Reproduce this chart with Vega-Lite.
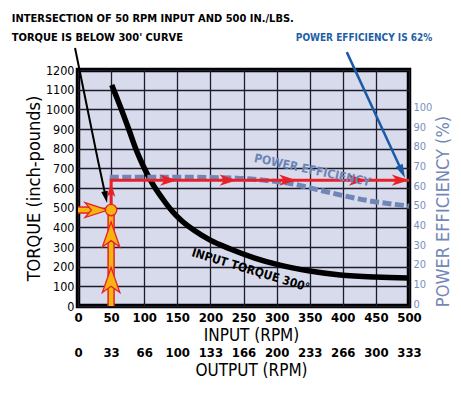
{
  "$schema": "https://vega.github.io/schema/vega-lite/v6.json",
  "width": 331,
  "height": 236,
  "autosize": {"type": "none"},
  "padding": {"left": 78, "top": 70, "right": 52, "bottom": 90},
  "background": "white",
  "config": {
    "view": {"fill": "#d8dbeb", "stroke": "#000000", "strokeWidth": 4.5},
    "font": "DejaVu Sans Condensed, Liberation Sans, sans-serif",
    "axis": {
      "domain": false,
      "ticks": false,
      "tickSize": 0,
      "labelFont": "DejaVu Sans Condensed, Liberation Sans, sans-serif",
      "titleFont": "DejaVu Sans Condensed, Liberation Sans, sans-serif",
      "labelColor": "#000000",
      "titleColor": "#000000",
      "titleFontWeight": "normal",
      "labelFlush": false,
      "labelOverlap": false,
      "format": "d",
      "gridColor": "#1c1c2c",
      "gridWidth": 1.3,
      "gridOpacity": 1
    }
  },
  "datasets": {
    "torque": [
      {"rpm": 51, "torque": 1124}, {"rpm": 63, "torque": 1022}, {"rpm": 76, "torque": 905},
      {"rpm": 88, "torque": 793}, {"rpm": 100, "torque": 702}, {"rpm": 112, "torque": 625},
      {"rpm": 127, "torque": 549}, {"rpm": 142, "torque": 483}, {"rpm": 157, "torque": 432},
      {"rpm": 177, "torque": 381}, {"rpm": 199, "torque": 336}, {"rpm": 230, "torque": 290},
      {"rpm": 267, "torque": 244}, {"rpm": 305, "torque": 208}, {"rpm": 350, "torque": 178},
      {"rpm": 396, "torque": 158}, {"rpm": 449, "torque": 147}, {"rpm": 500, "torque": 142}
    ],
    "power": [
      {"rpm": 48, "eff": 65.5}, {"rpm": 150, "eff": 65.5}, {"rpm": 240, "eff": 65},
      {"rpm": 280, "eff": 64}, {"rpm": 321, "eff": 62.3}, {"rpm": 360, "eff": 59.3},
      {"rpm": 397, "eff": 56.4}, {"rpm": 440, "eff": 53.5}, {"rpm": 488, "eff": 51.3},
      {"rpm": 500, "eff": 50.8}
    ],
    "redpath": [
      {"rpm": 50, "torque": 500, "o": 1}, {"rpm": 50, "torque": 640, "o": 2}, {"rpm": 500, "torque": 640, "o": 3}
    ],
    "shafts": [
      {"rpm": 50, "rpm2": 50, "torque": 0, "torque2": 488},
      {"rpm": 0, "rpm2": 25, "torque": 488, "torque2": 488}
    ],
    "redRight": [
      {"rpm": 137, "torque": 640}, {"rpm": 227, "torque": 640}, {"rpm": 317, "torque": 640},
      {"rpm": 422, "torque": 640}, {"rpm": 487, "torque": 640}
    ],
    "redUp": [{"rpm": 50, "torque": 590}],
    "orangeUp": [{"rpm": 50, "torque": 364}, {"rpm": 50, "torque": 132}],
    "orangeRight": [{"rpm": 28, "torque": 488}],
    "dot": [{"rpm": 50, "torque": 488}],
    "blackArrow": [{"rpm": -4.5, "torque": 1312}, {"rpm": 30, "torque": 742}, {"rpm": 42, "torque": 553}],
    "blackHead": [{"rpm": 42, "torque": 553}],
    "blueArrow": [{"rpm": 406, "torque": 1291}, {"rpm": 489.6, "torque": 683}],
    "blueHead": [{"rpm": 489.6, "torque": 683}],
    "heading": [
      {"rpm": -100, "torque": 1459, "label": "INTERSECTION OF 50 RPM INPUT AND  500 IN./LBS."},
      {"rpm": -100, "torque": 1363, "label": "TORQUE IS BELOW 300' CURVE"}
    ],
    "blueNote": [{"rpm": 329, "torque": 1363, "label": "POWER EFFICIENCY IS 62%"}],
    "curveNote": [{"rpm": 261, "torque": 183, "label": "INPUT TORQUE 300°"}],
    "effNote": [{"rpm": 354, "torque": 691, "label": "POWER EFFICIENCY"}]
  },
  "layer": [
    {
      "data": {"name": "torque"},
      "mark": {"type": "line", "color": "#000000", "strokeWidth": 5.5, "interpolate": "monotone"},
      "encoding": {
        "x": {
          "field": "rpm", "type": "quantitative",
          "scale": {"domain": [0, 500], "nice": false, "zero": false},
          "axis": {
            "orient": "bottom", "values": [0, 50, 100, 150, 200, 250, 300, 350, 400, 450, 500],
            "title": "INPUT (RPM)", "labelFontSize": 13, "labelFontWeight": "bold",
            "labelPadding": 5, "titleFontSize": 17, "titlePadding": 3, "titleX": 173, "grid": true
          }
        },
        "y": {
          "field": "torque", "type": "quantitative",
          "scale": {"domain": [0, 1200], "nice": false},
          "axis": {
            "orient": "left", "values": [0, 100, 200, 300, 400, 500, 600, 700, 800, 900, 1000, 1100, 1200],
            "title": "TORQUE (inch-pounds)", "labelFontSize": 12.5, "labelPadding": 4,
            "titleFontSize": 18, "titlePadding": 2, "grid": true
          }
        }
      }
    },
    {
      "data": {"name": "power"},
      "mark": {"type": "line", "color": "#6f86b6", "strokeWidth": 5, "strokeDash": [9, 3.5], "interpolate": "monotone"},
      "encoding": {
        "x": {
          "field": "rpm", "type": "quantitative",
          "scale": {"domain": [0, 500], "nice": false, "zero": false},
          "axis": {
            "orient": "bottom", "offset": 35, "values": [0, 50, 100, 150, 200, 250, 300, 350, 400, 450, 500],
            "labelExpr": "floor(datum.value * 2 / 3)",
            "title": "OUTPUT (RPM)", "labelFontSize": 13, "labelFontWeight": "bold",
            "labelPadding": 5, "titleFontSize": 17, "titlePadding": 3, "titleX": 173, "grid": false
          }
        },
        "y": {
          "field": "eff", "type": "quantitative",
          "scale": {"domain": [0, 120], "nice": false},
          "axis": {
            "orient": "right", "values": [0, 10, 20, 30, 40, 50, 60, 70, 80, 90, 100],
            "title": "POWER EFFICIENCY (%)", "labelFontSize": 11, "labelPadding": 4, "labelOffset": -2,
            "labelColor": "#7b8fbe", "titleColor": "#7388b9", "titleFontSize": 18,
            "titleAngle": -90, "titleBaseline": "top", "titlePadding": 3, "titleY": 141, "grid": false
          }
        }
      }
    },
    {
      "encoding": {
        "x": {"field": "rpm", "type": "quantitative", "scale": {"domain": [0, 500], "nice": false, "zero": false}, "axis": null},
        "y": {"field": "torque", "type": "quantitative", "scale": {"domain": [0, 1200], "nice": false}, "axis": null}
      },
      "layer": [
        {
          "data": {"name": "redpath"},
          "mark": {"type": "line", "color": "#e8202a", "strokeWidth": 3, "strokeJoin": "miter"},
          "encoding": {"order": {"field": "o", "type": "quantitative"}}
        },
        {
          "data": {"name": "redRight"},
          "mark": {"type": "point", "shape": "M1,0L-1,-0.65L-0.45,0L-1,0.65Z", "size": 300, "filled": true, "color": "#e8202a", "opacity": 1}
        },
        {
          "data": {"name": "redUp"},
          "mark": {"type": "point", "shape": "M0,-1L0.6,1L0,0.5L-0.6,1Z", "size": 200, "filled": true, "color": "#e8202a", "opacity": 1}
        },
        {
          "data": {"name": "shafts"},
          "mark": {"type": "rule", "color": "#e8202a", "strokeWidth": 7.5},
          "encoding": {"x2": {"field": "rpm2"}, "y2": {"field": "torque2"}}
        },
        {
          "data": {"name": "shafts"},
          "mark": {"type": "rule", "color": "#f6b40e", "strokeWidth": 4.5},
          "encoding": {"x2": {"field": "rpm2"}, "y2": {"field": "torque2"}}
        },
        {
          "data": {"name": "orangeUp"},
          "mark": {"type": "point", "shape": "M0,-1L0.7,1L0,0.5L-0.7,1Z", "size": 625, "filled": true, "fill": "#f6b40e", "stroke": "#e8202a", "strokeWidth": 1.3, "opacity": 1}
        },
        {
          "data": {"name": "orangeRight"},
          "mark": {"type": "point", "shape": "M1,0L-1,-0.65L-0.45,0L-1,0.65Z", "size": 529, "filled": true, "fill": "#f6b40e", "stroke": "#e8202a", "strokeWidth": 1.3, "opacity": 1}
        },
        {
          "data": {"name": "dot"},
          "mark": {"type": "point", "shape": "circle", "size": 130, "filled": true, "fill": "#f6b40e", "stroke": "#e8202a", "strokeWidth": 1.3, "opacity": 1}
        },
        {
          "data": {"name": "blackArrow"},
          "mark": {"type": "line", "color": "#000000", "strokeWidth": 2, "interpolate": "monotone"}
        },
        {
          "data": {"name": "blackHead"},
          "mark": {"type": "point", "shape": "M0,1L-0.55,-1L0.55,-1Z", "size": 144, "angle": -12.5, "filled": true, "color": "#000000", "opacity": 1}
        },
        {
          "data": {"name": "blueArrow"},
          "mark": {"type": "line", "color": "#1c5aa6", "strokeWidth": 2.5}
        },
        {
          "data": {"name": "blueHead"},
          "mark": {"type": "point", "shape": "M0,1L-0.55,-1L0.55,-1Z", "size": 196, "angle": -25, "filled": true, "color": "#1c5aa6", "opacity": 1}
        },
        {
          "data": {"name": "heading"},
          "mark": {"type": "text", "align": "left", "baseline": "middle", "fontWeight": "bold", "fontSize": 11, "color": "#000000"},
          "encoding": {"text": {"field": "label"}}
        },
        {
          "data": {"name": "blueNote"},
          "mark": {"type": "text", "align": "left", "baseline": "middle", "fontWeight": "bold", "fontSize": 10, "color": "#1f5fa8"},
          "encoding": {"text": {"field": "label"}}
        },
        {
          "data": {"name": "curveNote"},
          "mark": {"type": "text", "align": "center", "baseline": "middle", "angle": 17, "fontWeight": "bold", "fontSize": 12, "color": "#000000"},
          "encoding": {"text": {"field": "label"}}
        },
        {
          "data": {"name": "effNote"},
          "mark": {"type": "text", "align": "center", "baseline": "middle", "angle": 12, "fontWeight": "bold", "fontSize": 12, "color": "#6c84b4"},
          "encoding": {"text": {"field": "label"}}
        }
      ]
    }
  ],
  "resolve": {"scale": {"y": "independent"}, "axis": {"x": "independent", "y": "independent"}}
}
